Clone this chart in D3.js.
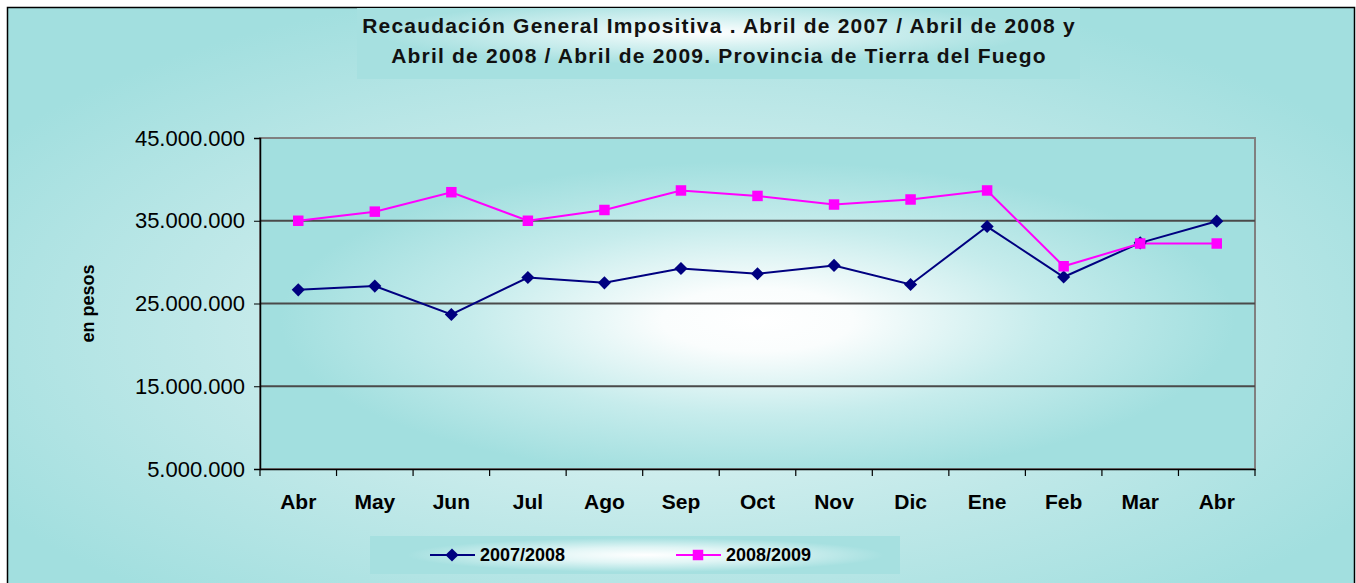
<!DOCTYPE html>
<html>
<head>
<meta charset="utf-8">
<script src="https://cdn.jsdelivr.net/npm/d3@7"></script>
<style>
  body { margin: 0; background: #fff; }
  text { font-family: Arial, "Liberation Sans", sans-serif; }
</style>
</head>
<body>
<script>
var months = ["Abr","May","Jun","Jul","Ago","Sep","Oct","Nov","Dic","Ene","Feb","Mar","Abr"];
var serie0708 = [26650000,27100000,23670000,28140000,27500000,29230000,28600000,29600000,27300000,34300000,28200000,32330000,34950000];
var serie0809 = [35000000,36100000,38450000,35000000,36300000,38660000,38000000,36960000,37570000,38660000,29500000,32250000,32250000];
var yTicks = [5000000,15000000,25000000,35000000,45000000];
var seriesNames = ["2007/2008","2008/2009"];
var titleLines = ["Recaudación General Impositiva . Abril de 2007 / Abril de 2008 y",
                  "Abril de 2008 / Abril de 2009. Provincia de Tierra del Fuego"];

var w = 1356, h = 583;
var pLeft = 260, pRight = 1255, pTop = 138, pBottom = 469;

var svg = d3.select("body").append("svg")
            .attr("width", w)
            .attr("height", h);

var defs = svg.append("defs");

function radial(id, cx, cy, r, stops) {
  var g = defs.append("radialGradient").attr("id", id)
              .attr("cx", cx).attr("cy", cy).attr("r", r);
  stops.forEach(function(s){
    g.append("stop").attr("offset", s[0]).attr("stop-color", s[1]);
  });
}
radial("bgGrad", "0.5", "0.55", "0.6", [["0%","#eef9f9"],["60%","#bfe8e8"],["100%","#a2dfdf"]]);
radial("plotGrad", "0.5", "0.55", "0.48", [["0%","#ffffff"],["20%","#fafdfd"],["60%","#c6ecec"],["100%","#a2dfdf"]]);
radial("titleGrad", "0.48", "0.35", "0.45", [["0%","#ffffff"],["40%","#d8f2f2"],["100%","#a6e0e0"]]);
radial("legendGrad", "0.52", "0.5", "0.45", [["0%","#ffffff"],["45%","#e0f5f5"],["100%","#a6e0e0"]]);

// outer background
svg.append("rect")
   .attr("x", 7.5).attr("y", 7.5)
   .attr("width", w - 9).attr("height", h)
   .attr("fill", "url(#bgGrad)")
   .attr("stroke", "#000").attr("stroke-width", 1.5);

// title box
svg.append("rect")
   .attr("x", 357).attr("y", 8)
   .attr("width", 723).attr("height", 71)
   .attr("fill", "url(#titleGrad)");

svg.selectAll(".title")
   .data(titleLines)
   .enter()
   .append("text")
   .attr("class", "title")
   .attr("x", 719)
   .attr("y", function(d, i){ return 33 + i * 30; })
   .attr("text-anchor", "middle")
   .attr("font-size", "21px")
   .attr("font-weight", "bold")
   .attr("letter-spacing", "1.2px")
   .attr("fill", "#111")
   .text(function(d){ return d; });

// scales
var x = d3.scaleBand()
          .domain(d3.range(months.length))
          .range([pLeft, pRight]);

var y = d3.scaleLinear()
          .domain([5000000, 45000000])
          .range([pBottom, pTop]);

var locale = d3.formatLocale({decimal: ",", thousands: ".", grouping: [3], currency: ["$", ""]});
var fmt = locale.format(",");

// plot area
svg.append("rect")
   .attr("x", pLeft).attr("y", pTop)
   .attr("width", pRight - pLeft).attr("height", pBottom - pTop)
   .attr("fill", "url(#plotGrad)")
   .attr("stroke", "#808080").attr("stroke-width", 2);

// grid lines
svg.selectAll(".grid")
   .data(yTicks.slice(1))
   .enter()
   .append("line")
   .attr("x1", pLeft).attr("x2", pRight)
   .attr("y1", function(d){ return y(d); })
   .attr("y2", function(d){ return y(d); })
   .attr("stroke", function(d, i){ return i == yTicks.length - 2 ? "#808080" : "#4a4a4a"; })
   .attr("stroke-width", 2);

// y axis
var yAxis = svg.append("g")
   .attr("transform", "translate(" + pLeft + ",0)")
   .call(d3.axisLeft(y).tickValues(yTicks).tickFormat(fmt).tickSize(6).tickPadding(9));
yAxis.select(".domain").attr("stroke", "#000").attr("stroke-width", 1.5);
yAxis.selectAll(".tick line").attr("stroke", "#000");
yAxis.selectAll("text")
     .attr("font-size", "22px")
     .attr("fill", "#000");

// x axis
var xAxis = svg.append("g")
   .attr("transform", "translate(0," + pBottom + ")")
   .call(d3.axisBottom(x).tickFormat(function(i){ return months[i]; }).tickSize(0).tickPadding(25));
xAxis.select(".domain").attr("stroke", "#000").attr("stroke-width", 1.5);
xAxis.selectAll("text")
     .attr("font-size", "21px")
     .attr("font-weight", "bold")
     .attr("fill", "#000");

// category separator ticks
svg.selectAll(".xtick")
   .data(d3.range(months.length + 1))
   .enter()
   .append("line")
   .attr("x1", function(i){ return pLeft + i * x.step(); })
   .attr("x2", function(i){ return pLeft + i * x.step(); })
   .attr("y1", pBottom)
   .attr("y2", pBottom + 7)
   .attr("stroke", "#000")
   .attr("stroke-width", 1.2);

// y axis title
svg.append("text")
   .attr("transform", "translate(94," + ((pTop + pBottom) / 2) + ") rotate(-90)")
   .attr("text-anchor", "middle")
   .attr("font-size", "18px")
   .attr("font-weight", "bold")
   .attr("fill", "#000")
   .text("en pesos");

// lines
var line = d3.line()
             .x(function(d, i){ return x(i) + x.bandwidth() / 2; })
             .y(function(d){ return y(d); });

svg.append("path")
   .datum(serie0708)
   .attr("d", line)
   .attr("fill", "none")
   .attr("stroke", "#000080")
   .attr("stroke-width", 2);

svg.append("path")
   .datum(serie0809)
   .attr("d", line)
   .attr("fill", "none")
   .attr("stroke", "#ff00ff")
   .attr("stroke-width", 2);

var diamond = d3.symbol().type(d3.symbolDiamond2).size(110);
var square = d3.symbol().type(d3.symbolSquare).size(110);

svg.selectAll(".m0")
   .data(serie0708)
   .enter()
   .append("path")
   .attr("transform", function(d, i){ return "translate(" + (x(i) + x.bandwidth() / 2) + "," + y(d) + ")"; })
   .attr("d", diamond)
   .attr("fill", "#000080");

svg.selectAll(".m1")
   .data(serie0809)
   .enter()
   .append("path")
   .attr("transform", function(d, i){ return "translate(" + (x(i) + x.bandwidth() / 2) + "," + y(d) + ")"; })
   .attr("d", square)
   .attr("fill", "#ff00ff");

// legend
svg.append("rect")
   .attr("x", 370).attr("y", 536)
   .attr("width", 530).attr("height", 38)
   .attr("fill", "url(#legendGrad)");

var legendColors = ["#000080", "#ff00ff"];
var legendSymbols = [diamond, square];
var legendX = [430, 676];

var leg = svg.selectAll(".leg")
   .data(seriesNames)
   .enter()
   .append("g")
   .attr("transform", function(d, i){ return "translate(" + legendX[i] + ",555)"; });

leg.append("line")
   .attr("x1", 0).attr("x2", 45)
   .attr("stroke", function(d, i){ return legendColors[i]; })
   .attr("stroke-width", 2);

leg.append("path")
   .attr("transform", "translate(22,0)")
   .attr("d", function(d, i){ return legendSymbols[i](); })
   .attr("fill", function(d, i){ return legendColors[i]; });

leg.append("text")
   .attr("x", 50)
   .attr("y", 6)
   .attr("font-size", "18px")
   .attr("font-weight", "bold")
   .attr("fill", "#000")
   .text(function(d){ return d; });
</script>
</body>
</html>
